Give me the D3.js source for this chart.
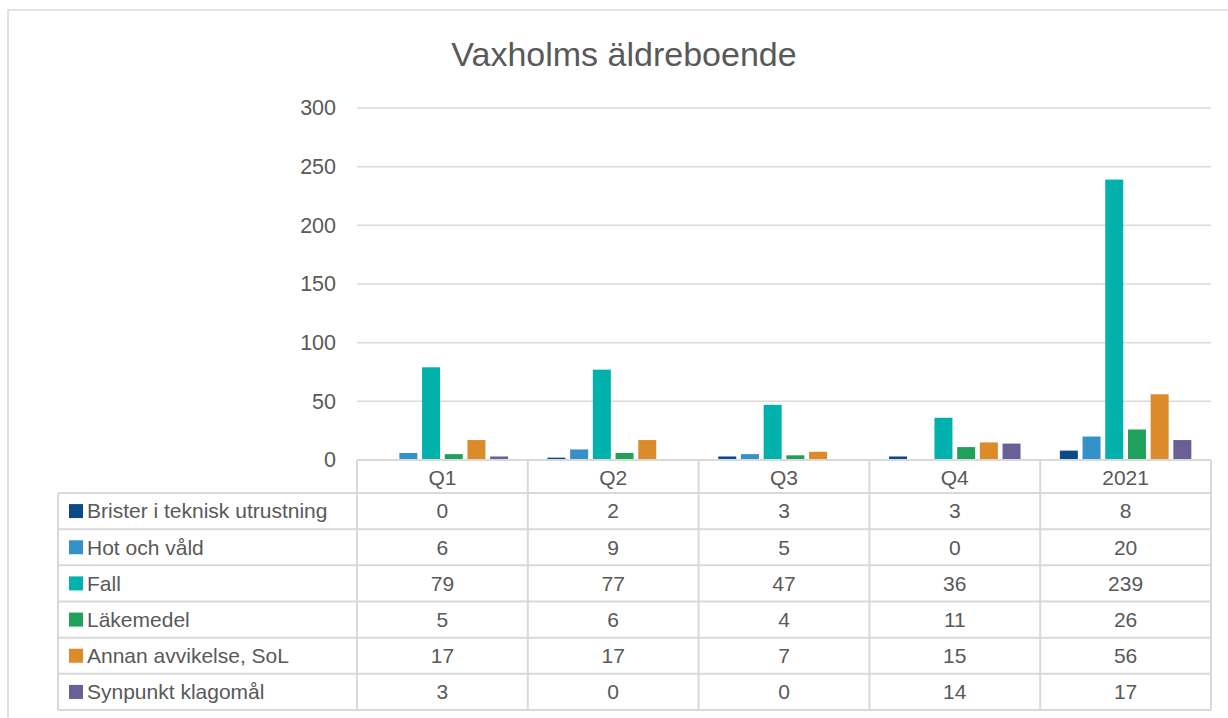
<!DOCTYPE html>
<html>
<head>
<meta charset="utf-8">
<script src="https://cdn.jsdelivr.net/npm/d3@7"></script>
<style>
  html, body { margin: 0; padding: 0; background: #fff; }
  svg { display: block; }
  text { font-family: "Liberation Sans", Arial, sans-serif; fill: #595959; }
</style>
</head>
<body>
<script>
const title = "Vaxholms äldreboende";
const categories = ["Q1", "Q2", "Q3", "Q4", "2021"];
const seriesNames = ["Brister i teknisk utrustning", "Hot och våld", "Fall", "Läkemedel", "Annan avvikelse, SoL", "Synpunkt klagomål"];
const seriesColors = ["#0b4a86", "#3592c8", "#00b1ac", "#21a05b", "#dc8b2b", "#6b5f98"];
const brister = [0, 2, 3, 3, 8];
const hotOchVald = [6, 9, 5, 0, 20];
const fall = [79, 77, 47, 36, 239];
const lakemedel = [5, 6, 4, 11, 26];
const annanAvvikelse = [17, 17, 7, 15, 56];
const synpunkt = [3, 0, 0, 14, 17];
const yTicks = [0, 50, 100, 150, 200, 250, 300];

const seriesValues = [brister, hotOchVald, fall, lakemedel, annanAvvikelse, synpunkt];

const W = 1228, H = 718;
const svg = d3.select("body").append("svg").attr("width", W).attr("height", H);

// chart border
svg.append("rect").attr("x", 8).attr("y", 10).attr("width", W + 20).attr("height", H + 20)
  .attr("fill", "none").attr("stroke", "#d9d9d9").attr("stroke-width", 1.5);

const plotL = 357, plotR = 1211, plotT = 108, plotB = 460;
const tableL = 58, headerB = 493, tableB = 710;
const gridColor = "#d9d9d9";
const fs = "21px";

// title
svg.append("text").attr("x", 624).attr("y", 66).attr("text-anchor", "middle")
  .style("font-size", "34px").text(title);

const x = d3.scaleBand().domain(categories).range([plotL, plotR]).padding(0);
const xs = d3.scaleBand().domain(seriesNames).range([0, x.bandwidth()])
  .paddingInner(0.207).paddingOuter(0.866);
const y = d3.scaleLinear().domain([0, 300]).range([plotB, plotT]);

// gridlines
svg.append("g").selectAll("line").data(yTicks.filter(d => d > 0)).join("line")
  .attr("x1", plotL).attr("x2", plotR)
  .attr("y1", d => y(d)).attr("y2", d => y(d))
  .attr("stroke", gridColor).attr("stroke-width", 1.5);

// y axis labels
const yAxis = d3.axisLeft(y).tickValues(yTicks).tickSize(0).tickPadding(0).tickFormat(d3.format("d"));
const yg = svg.append("g").attr("transform", `translate(336,0)`).call(yAxis);
yg.select(".domain").remove();
yg.selectAll("text").style("font-size", "21.5px").attr("fill", "#595959")
  .style("font-family", '"Liberation Sans", Arial, sans-serif');

// bars
seriesNames.forEach((s, si) => {
  svg.append("g").selectAll("rect").data(seriesValues[si]).join("rect")
    .attr("x", (d, i) => x(categories[i]) + xs(s))
    .attr("width", xs.bandwidth())
    .attr("y", d => y(d))
    .attr("height", d => y(0) - y(d))
    .attr("fill", seriesColors[si]);
});

// axis line at 0
svg.append("line").attr("x1", plotL).attr("x2", plotR).attr("y1", plotB).attr("y2", plotB)
  .attr("stroke", gridColor).attr("stroke-width", 2);

// data table
const rowH = (tableB - headerB) / seriesNames.length;
const tg = svg.append("g");
for (let r = 0; r <= seriesNames.length; r++) {
  const yy = headerB + r * rowH;
  tg.append("line").attr("x1", tableL).attr("x2", plotR).attr("y1", yy).attr("y2", yy)
    .attr("stroke", gridColor).attr("stroke-width", 2);
}
tg.append("line").attr("x1", tableL).attr("x2", tableL).attr("y1", headerB).attr("y2", tableB)
  .attr("stroke", gridColor).attr("stroke-width", 2);
const colEdges = categories.map(c => x(c)).concat([plotR]);
colEdges.forEach(cx => {
  tg.append("line").attr("x1", cx).attr("x2", cx).attr("y1", plotB).attr("y2", tableB)
    .attr("stroke", gridColor).attr("stroke-width", 2);
});
tg.selectAll("text.hdr").data(categories).join("text").attr("class", "hdr")
  .attr("x", d => x(d) + x.bandwidth() / 2).attr("y", (plotB + headerB) / 2 + 1)
  .attr("dy", "0.35em").attr("text-anchor", "middle").style("font-size", fs).text(d => d);
seriesNames.forEach((s, si) => {
  const cy = headerB + (si + 0.5) * rowH;
  tg.append("rect").attr("x", 69).attr("y", cy - 7).attr("width", 14).attr("height", 14)
    .attr("fill", seriesColors[si]);
  tg.append("text").attr("x", 87).attr("y", cy).attr("dy", "0.35em")
    .style("font-size", fs).text(s);
  tg.selectAll(null).data(seriesValues[si]).join("text")
    .attr("x", (d, i) => x(categories[i]) + x.bandwidth() / 2).attr("y", cy)
    .attr("dy", "0.35em").attr("text-anchor", "middle").style("font-size", fs)
    .text(d => d);
});
</script>
</body>
</html>
